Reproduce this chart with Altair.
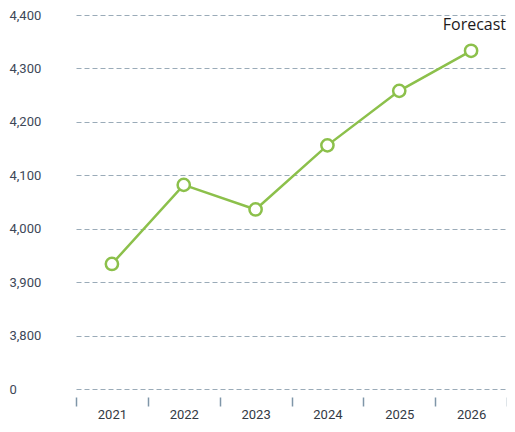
import altair as alt
import pandas as pd

years = ["2021", "2022", "2023", "2024", "2025", "2026"]
values = [3934, 4082, 4036, 4156, 4258, 4333]
y_ticks = [3700, 3800, 3900, 4000, 4100, 4200, 4300, 4400]
annotation = "Forecast"

df = pd.DataFrame({"year": years, "value": values})

GREEN = "#8cc04b"
FONT = "Roboto"

x = alt.X(
    "year:N",
    sort=years,
    scale=alt.Scale(paddingInner=0, paddingOuter=0, type="band"),
    axis=alt.Axis(
        title=None,
        domain=False,
        grid=False,
        tickBand="extent",
        tickSize=9,
        tickWidth=1.5,
        tickColor="#7f96a8",
        offset=8,
        labelPadding=2,
        labelFontSize=13,
        labelColor="#333a44",
        labelFont=FONT,
        labelAngle=0,
    ),
)

y = alt.Y(
    "value:Q",
    scale=alt.Scale(domain=[3700, 4400], nice=False, zero=False),
    axis=alt.Axis(
        title=None,
        values=y_ticks,
        domain=False,
        ticks=False,
        labelAlign="left",
        labelPadding=67,
        labelFontSize=13,
        labelColor="#3d4858",
        labelFont=FONT,
        labelExpr="datum.value == 3700 ? '0' : format(datum.value, ',')",
        gridColor="#9aabb8",
        gridDash=[5, 3],
        gridWidth=1,
    ),
)

base = alt.Chart(df)

line = base.mark_line(color=GREEN, strokeWidth=2.5).encode(x=x, y=y)
points = base.mark_point(
    shape="circle", filled=True, fill="white", stroke=GREEN, strokeWidth=2.5, size=150, opacity=1
).encode(x=x, y=y)

label = alt.Chart(pd.DataFrame({"year": [years[-1]], "value": [y_ticks[-1]], "t": [annotation]})).mark_text(
    fontSize=16, font="Open Sans", fontWeight=500, color="#1e1a1b", align="right", baseline="middle", dy=10, dx=35
).encode(x=alt.X("year:N", sort=years), y=alt.Y("value:Q"), text="t:N")

chart = (
    alt.layer(line, points, label)
    .properties(
        width=431,
        height=374,
        background="white",
        autosize=alt.AutoSizeParams(type="none"),
        padding={"left": 68, "top": 7, "right": 0, "bottom": 33},
    )
    .configure_view(strokeWidth=0)
)

chart.save("out.html", embed_options={"renderer": "svg", "actions": False})
